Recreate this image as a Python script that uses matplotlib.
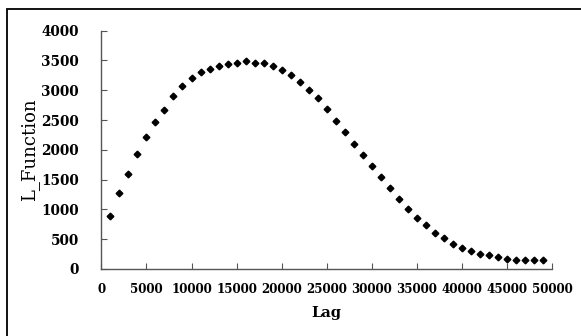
import numpy as np
from matplotlib import pyplot as plt
from matplotlib.patches import Rectangle

# Data
lag = np.arange(1000, 50000, 1000)
l_function = [895, 1281, 1600, 1935, 2211, 2462, 2669, 2909, 3077, 3211,
              3302, 3352, 3408, 3446, 3463, 3486, 3463, 3463, 3408, 3335,
              3251, 3131, 3001, 2865, 2686, 2479, 2300, 2103, 1914, 1729,
              1549, 1355, 1175, 1002, 861, 739, 609, 515, 425, 347,
              302, 257, 230, 196, 173, 156, 156, 156, 156]
x_ticks = np.arange(0, 50001, 5000)
y_ticks = np.arange(0, 4001, 500)

plt.rcParams['font.family'] = 'DejaVu Serif'

fig = plt.figure(figsize=(5.81, 3.36), dpi=100)
ax = fig.add_axes([101.3 / 581, 1 - 269 / 336, 451 / 581, 238.3 / 336])

# outer frame (only left and top edges fall inside the image)
fig.patches.append(Rectangle((7 / 581, -0.1), 1.1, 1.1 - 9 / 336,
                             transform=fig.transFigure, fill=False,
                             edgecolor='black', linewidth=1.3))

ax.plot(lag, l_function, linestyle='none', marker='D', markersize=3.4,
        color='black')

ax.set_xlim(0, 50000)
ax.set_ylim(0, 4000)
ax.set_xticks(x_ticks)
ax.set_yticks(y_ticks)
ax.tick_params(axis='x', direction='in', length=4, color='#555555',
               labelsize=8.6, pad=10)
ax.tick_params(axis='y', direction='in', length=4, color='#555555',
               labelsize=9.8, pad=16)
for lbl in ax.get_xticklabels() + ax.get_yticklabels():
    lbl.set_fontweight('bold')

for s in ['top', 'right']:
    ax.spines[s].set_visible(False)
for s in ['left', 'bottom']:
    ax.spines[s].set_color('#555555')
    ax.spines[s].set_linewidth(1.0)

ax.set_xlabel("Lag", fontsize=10.5, fontweight='bold', labelpad=7)
ax.set_ylabel("L_Function", fontsize=13, labelpad=2)

fig.savefig("out.png", dpi=100)
